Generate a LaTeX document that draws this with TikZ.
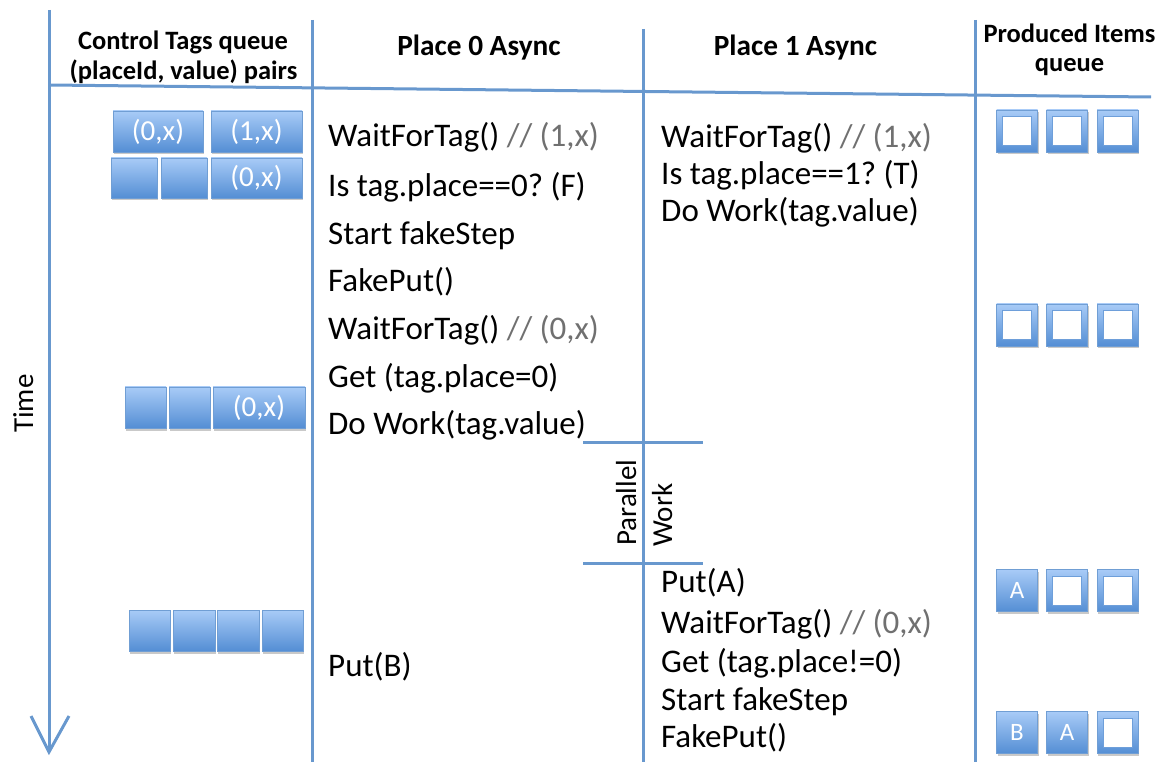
\documentclass[tikz,border=0pt]{standalone}
\usepackage{fontspec}
\setmainfont{Carlito}
\usetikzlibrary{shadows}
\frenchspacing
\definecolor{linec}{RGB}{104,152,206}
\definecolor{boxtop}{RGB}{168,203,247}
\definecolor{boxbot}{RGB}{84,142,212}
\definecolor{boxedge}{RGB}{112,158,212}
\definecolor{cmt}{RGB}{112,112,112}
\tikzset{
  rule/.style={draw=linec, line width=3pt},
  qbox/.style={draw=boxedge, line width=0.8pt, top color=boxtop, bottom color=boxbot,
    inner sep=0pt, text=white, font=\fontsize{29}{29}\selectfont,
    drop shadow={shadow xshift=1pt, shadow yshift=-2.5pt, opacity=0.3, fill=black!70}},
  pbox/.style={qbox, minimum width=41pt, minimum height=42pt, font=\fontsize{25}{25}\selectfont},
  hole/.style={fill=white, draw=boxbot!85, line width=0.8pt},
  code/.style={anchor=base west, inner sep=0pt, font=\fontsize{33}{33}\selectfont},
  head/.style={anchor=base, inner sep=0pt, font=\bfseries\fontsize{26.5}{26.5}\selectfont},
  bighead/.style={anchor=base, inner sep=0pt, font=\bfseries\fontsize{29.3}{29.3}\selectfont},
  vtext/.style={anchor=base west, inner sep=0pt, rotate=90, font=\fontsize{29}{29}\selectfont},
}
\begin{document}
\begin{tikzpicture}[x=1pt,y=-1pt]
\useasboundingbox (0,0) rectangle (1168,767);
% frame coordinates
\coordinate (ttop) at (49,10);
\coordinate (tbot) at (49,752);
\coordinate (tl) at (31,716);
\coordinate (tr) at (69,716);
\coordinate (c1t) at (312,20);
\coordinate (c1b) at (312,762);
\coordinate (c2t) at (643,29);
\coordinate (c2b) at (643,762);
\coordinate (c3t) at (975,20);
\coordinate (c3b) at (975,762);
\coordinate (hl) at (49,85);
\coordinate (hr) at (1151,97);
\coordinate (pw1l) at (583,442);
\coordinate (pw1r) at (703,442);
\coordinate (pw2l) at (583,563);
\coordinate (pw2r) at (703,563);
\draw[rule] (ttop) -- (tbot);
\draw[rule, line join=miter] (tl) -- (tbot) -- (tr);
\draw[rule] (c1t) -- (c1b);
\draw[rule] (c2t) -- (c2b);
\draw[rule] (c3t) -- (c3b);
\draw[rule] (hl) -- (hr);
\draw[rule] (pw1l) -- (pw1r);
\draw[rule] (pw2l) -- (pw2r);
% headers
\node[head] (h1a) at (183,50) {Control Tags queue};
\node[head] (h1b) at (183.5,80) {(placeId, value) pairs};
\node[bighead] (h2) at (479,56) {Place 0 Async};
\node[bighead] (h3) at (795.5,56) {Place 1 Async};
\node[head] (h4a) at (1069.5,43) {Produced Items};
\node[head] (h4b) at (1069.5,72) {queue};
% vertical texts
\node[vtext] (time) at (33,433) {Time};
\node[vtext] (par) at (636,546) {Parallel};
\node[vtext] (wrk) at (672,547) {Work};
% place 0
\node[code] (a1) at (328,147) {WaitForTag() {\color{cmt}// (1,x)}};
\node[code] (a2) at (328,197) {Is tag.place==0? (F)};
\node[code] (a3) at (328,245) {Start fakeStep};
\node[code] (a4) at (328,292) {FakePut()};
\node[code] (a5) at (328,340) {WaitForTag() {\color{cmt}// (0,x)}};
\node[code] (a6) at (328,388) {Get (tag.place=0)};
\node[code] (a7) at (328,435) {Do Work(tag.value)};
\node[code] (a8) at (328,676) {Put(B)};
% place 1
\node[code] (b1) at (661,148) {WaitForTag() {\color{cmt}// (1,x)}};
\node[code] (b2) at (661,185) {Is tag.place==1? (T)};
\node[code] (b3) at (661,222) {Do Work(tag.value)};
\node[code] (b4) at (661,592) {Put(A)};
\node[code] (b5) at (661,633) {WaitForTag() {\color{cmt}// (0,x)}};
\node[code] (b6) at (661,672) {Get (tag.place!=0)};
\node[code] (b7) at (661,710) {Start fakeStep};
\node[code] (b8) at (661,747) {FakePut()};
% control tags queue
\node[qbox, minimum width=90pt, minimum height=41pt] (q11) at (158,131.5) {(0,x)};
\node[qbox, minimum width=91pt, minimum height=41pt] (q12) at (256.5,131.5) {(1,x)};
\node[qbox, minimum width=46pt, minimum height=40pt] (q21) at (134,178) {};
\node[qbox, minimum width=46pt, minimum height=40pt] (q22) at (184,178) {};
\node[qbox, minimum width=91pt, minimum height=40pt] (q23) at (256.5,178) {(0,x)};
\node[qbox, minimum width=41pt, minimum height=41pt] (q31) at (145.5,407.5) {};
\node[qbox, minimum width=41pt, minimum height=41pt] (q32) at (189.5,407.5) {};
\node[qbox, minimum width=92pt, minimum height=41pt] (q33) at (259,407.5) {(0,x)};
\node[qbox, minimum width=41pt, minimum height=41pt] (q41) at (149.5,630.5) {};
\node[qbox, minimum width=42pt, minimum height=41pt] (q42) at (194,630.5) {};
\node[qbox, minimum width=42pt, minimum height=41pt] (q43) at (238,630.5) {};
\node[qbox, minimum width=41pt, minimum height=41pt] (q44) at (282.5,630.5) {};
% produced items queue
\node[pbox] (p11) at (1017,131) {};
\node[pbox] (p12) at (1067,131) {};
\node[pbox] (p13) at (1117.5,131) {};
\node[pbox] (p21) at (1017,325) {};
\node[pbox] (p22) at (1067,325) {};
\node[pbox] (p23) at (1117.5,325) {};
\node[pbox] (p31) at (1017,590.5) {A};
\node[pbox] (p32) at (1067,590.5) {};
\node[pbox] (p33) at (1117.5,590.5) {};
\node[pbox] (p41) at (1017,732.5) {B};
\node[pbox] (p42) at (1067,732.5) {A};
\node[pbox] (p43) at (1117.5,732.5) {};
\foreach \n in {p11,p12,p13,p21,p22,p23,p32,p33,p43}
  \draw[hole] ([xshift=-14.5pt,yshift=-14.5pt]\n.center) rectangle ([xshift=14.5pt,yshift=14.5pt]\n.center);
\end{tikzpicture}
\end{document}
